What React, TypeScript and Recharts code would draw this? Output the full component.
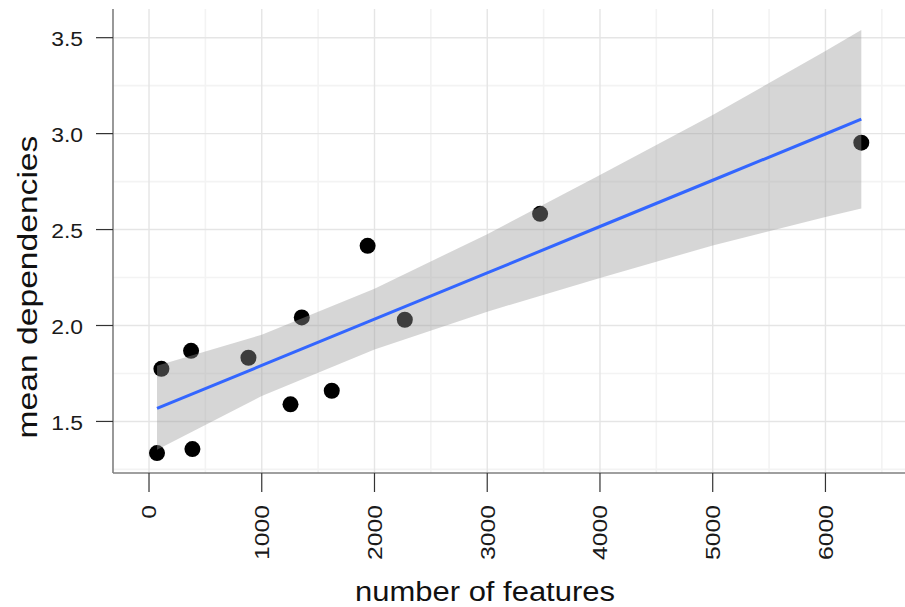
import {
  ComposedChart,
  Scatter,
  Area,
  Line,
  XAxis,
  YAxis,
  CartesianGrid,
  Label,
} from "recharts";

// observed projects: number of features vs mean dependencies
const features = [71, 110, 373, 385, 882, 1255, 1355, 1621, 1939, 2269, 3469, 6318];
const meanDeps = [1.335, 1.774, 1.868, 1.356, 1.832, 1.589, 2.042, 1.66, 2.415, 2.03, 2.582, 2.953];

// linear fit + confidence band
const fitX = [71, 1000, 2000, 3000, 4000, 5000, 6000, 6318];
const fitY = [1.568, 1.792, 2.033, 2.274, 2.516, 2.757, 2.998, 3.075];
const bandLow = [1.352, 1.632, 1.875, 2.072, 2.248, 2.417, 2.565, 2.61];
const bandHigh = [1.79, 1.952, 2.192, 2.476, 2.784, 3.097, 3.43, 3.54];

const xTicks = [0, 1000, 2000, 3000, 4000, 5000, 6000];
const xMinor = [500, 1500, 2500, 3500, 4500, 5500, 6500];
const yTicks = [1.5, 2.0, 2.5, 3.0, 3.5];
const yMinor = [1.25, 1.75, 2.25, 2.75, 3.25];

const points = features.map((x, i) => ({ x, y: meanDeps[i] }));
const fitRows = fitX.map((x, i) => ({
  x,
  fit: fitY[i],
  band: [bandLow[i], bandHigh[i]],
}));

const FONT = "'Liberation Sans', Arial, Helvetica, sans-serif";
const BORDER = "#7f7f7f";

// rotated x labels, a little stretched along the text like the original
const XTick = (props: any) => {
  const { x, y, payload } = props;
  return (
    <g transform={`translate(${x},${y}) rotate(-90) scale(1.18,1)`}>
      <text
        x={0}
        y={0}
        textAnchor="end"
        dominantBaseline="central"
        fontFamily={FONT}
        fontSize={21}
        fill="#1a1a1a"
      >
        {payload.value}
      </text>
    </g>
  );
};

const YTick = (props: any) => {
  const { x, y, payload } = props;
  return (
    <g transform={`translate(${x},${y + 1.5}) scale(1.09,1)`}>
      <text
        x={0}
        y={0}
        textAnchor="end"
        dominantBaseline="central"
        fontFamily={FONT}
        fontSize={21}
        fill="#1a1a1a"
      >
        {Number(payload.value).toFixed(1)}
      </text>
    </g>
  );
};

const Dot = (props: any) => <circle cx={props.cx} cy={props.cy} r={8} fill="#000" />;

export default function App() {
  return (
    <div
      style={{
        position: "absolute",
        left: 0,
        top: 0,
        width: 905,
        height: 607,
        overflow: "hidden",
        background: "#fff",
      }}
    >
      <ComposedChart
        width={960}
        height={607}
        data={fitRows}
        margin={{ top: 9, right: 35, left: 0, bottom: 0 }}
      >
        {/* minor grid, then major grid */}
        <CartesianGrid
          verticalValues={xMinor}
          horizontalValues={yMinor}
          stroke="#f3f3f3"
          strokeWidth={1.6}
        />
        <CartesianGrid
          verticalValues={xTicks}
          horizontalValues={yTicks}
          stroke="#e5e5e5"
          strokeWidth={1.4}
        />

        <XAxis
          dataKey="x"
          type="number"
          domain={[-319.4, 6883]}
          allowDataOverflow
          ticks={xTicks}
          height={134}
          tickSize={19}
          tickMargin={13}
          axisLine={{ stroke: BORDER, strokeWidth: 1.6 }}
          tickLine={{ stroke: "#333", strokeWidth: 1.2 }}
          tick={<XTick />}
        >
          <Label
            content={(p: any) => (
              <g transform={`translate(${p.viewBox.x + 372},${p.viewBox.y + 128}) scale(1.106,1)`}>
                <text
                  x={0}
                  y={0}
                  textAnchor="middle"
                  fontFamily={FONT}
                  fontSize={28}
                  fill="#111"
                >
                  number of features
                </text>
              </g>
            )}
          />
        </XAxis>
        {/* top border of the panel */}
        <XAxis
          xAxisId="top"
          orientation="top"
          dataKey="x"
          type="number"
          domain={[-319.4, 6883]}
          allowDataOverflow
          height={0}
          tick={false}
          tickLine={false}
          axisLine={{ stroke: BORDER, strokeWidth: 1.6 }}
        />
        <YAxis
          type="number"
          domain={[1.2313, 3.6495]}
          allowDataOverflow
          ticks={yTicks}
          width={113}
          tickSize={17}
          tickMargin={13}
          axisLine={{ stroke: BORDER, strokeWidth: 1.6 }}
          tickLine={{ stroke: "#333", strokeWidth: 1.2 }}
          tick={<YTick />}
        >
          <Label
            content={(p: any) => (
              <g transform={`translate(37,${p.viewBox.y + 278}) rotate(-90) scale(1.18,1)`}>
                <text
                  x={0}
                  y={0}
                  textAnchor="middle"
                  fontFamily={FONT}
                  fontSize={28.5}
                  fill="#111"
                >
                  mean dependencies
                </text>
              </g>
            )}
          />
        </YAxis>

        <Scatter
          data={points}
          dataKey="y"
          shape={<Dot />}
          isAnimationActive={false}
          zIndex={50}
        />
        <Area
          dataKey="band"
          type="linear"
          stroke="none"
          fill="#999999"
          fillOpacity={0.4}
          isAnimationActive={false}
          activeDot={false}
        />
        <Line
          dataKey="fit"
          type="linear"
          stroke="#3366FF"
          strokeWidth={3}
          dot={false}
          activeDot={false}
          isAnimationActive={false}
        />
      </ComposedChart>
    </div>
  );
}
